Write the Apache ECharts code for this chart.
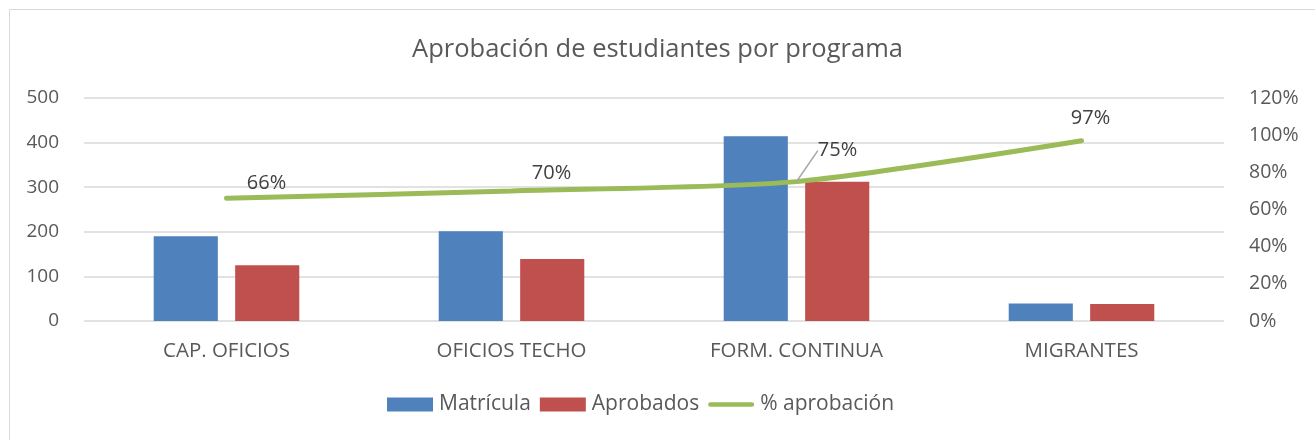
<!DOCTYPE html>
<html>
<head>
<meta charset="utf-8">
<script src="https://cdn.jsdelivr.net/npm/echarts@6/dist/echarts.min.js"></script>
<style>
  html, body { margin: 0; padding: 0; background: #fff; }
  #chart { width: 1315px; height: 440px; }
</style>
</head>
<body>
<div id="chart"></div>
<script>
// data
var categories = ['CAP. OFICIOS', 'OFICIOS TECHO', 'FORM. CONTINUA', 'MIGRANTES'];
var matricula = [190, 201, 414, 39];
var aprobados = [125, 139, 312, 38];
var pctAprobacion = [0.66, 0.70, 0.75, 0.97];

var FONT = 'Open Sans';
var TXT = '#595959';

// where each % label sits relative to its point
var labelShift = [[40, -15], [40, -18], [41, -31], [9, -22]];

var chart = echarts.init(document.getElementById('chart'));

chart.setOption({
    animation: false,
    textStyle: { fontFamily: FONT },
    title: {
        text: 'Aprobación de estudiantes por programa',
        left: 'center',
        top: 32,
        textStyle: { fontFamily: FONT, fontSize: 25.5, fontWeight: 'normal', color: TXT }
    },
    graphic: [{
        type: 'rect',
        shape: { x: 9.5, y: 9.5, width: 1320, height: 440 },
        style: { fill: null, stroke: '#d9d9d9', lineWidth: 1 },
        silent: true
    }],
    legend: {
        bottom: 20,
        left: 382,
        itemGap: 9,
        itemWidth: 46,
        itemHeight: 14,
        textStyle: { fontFamily: FONT, fontSize: 21, color: TXT, padding: [0, 0, 0, 1] },
        data: [
            { name: 'Matrícula', icon: 'rect' },
            { name: 'Aprobados', icon: 'rect' },
            { name: '% aprobación', icon: 'path://M2.5,0 L47.5,0 A2.5,2.5 0 0 1 47.5,5 L2.5,5 A2.5,2.5 0 0 1 2.5,0 Z' }
        ]
    },
    grid: { left: 84, right: 91, top: 98, bottom: 119 },
    xAxis: {
        type: 'category',
        data: categories,
        axisLine: { show: false },
        axisTick: { show: false },
        axisLabel: { color: TXT, fontSize: 20.5, margin: 20, fontFamily: FONT }
    },
    yAxis: [{
        type: 'value',
        min: 0,
        max: 500,
        interval: 100,
        axisLine: { show: false },
        axisTick: { show: false },
        axisLabel: { color: TXT, fontSize: 19, margin: 25, fontFamily: FONT },
        splitLine: { lineStyle: { color: '#d9d9d9', width: 1.5 } }
    }, {
        type: 'value',
        min: 0,
        max: 1.2,
        interval: 0.2,
        axisLine: { show: false },
        axisTick: { show: false },
        splitLine: { show: false },
        axisLabel: {
            color: TXT, fontSize: 19.5, margin: 25, fontFamily: FONT,
            formatter: function (v) { return Math.round(v * 100) + '%'; }
        }
    }],
    series: [{
        name: 'Matrícula',
        type: 'bar',
        data: matricula,
        barWidth: '22.5%',
        barGap: '27%',
        itemStyle: { color: '#4f81bd' }
    }, {
        name: 'Aprobados',
        type: 'bar',
        data: aprobados,
        barWidth: '22.5%',
        itemStyle: { color: '#c0504d' }
    }, {
        name: '% aprobación',
        type: 'line',
        yAxisIndex: 1,
        smooth: 0.25,
        symbol: 'circle',
        symbolSize: 1,
        showSymbol: true,
        lineStyle: { color: '#9bbb59', width: 5, cap: 'round' },
        itemStyle: { color: '#9bbb59' },
        data: pctAprobacion.map(function (v, i) {
            return {
                value: v,
                labelLine: { show: i === 2, lineStyle: { color: '#a6a6a6', width: 1.5 } }
            };
        }),
        label: {
            show: true,
            position: 'inside',
            color: '#404040',
            fontSize: 20,
            fontFamily: FONT,
            formatter: function (p) { return Math.round(p.value * 100) + '%'; }
        },
        labelLayout: function (p) {
            return { dx: labelShift[p.dataIndex][0], dy: labelShift[p.dataIndex][1] };
        }
    }]
});
</script>
</body>
</html>
